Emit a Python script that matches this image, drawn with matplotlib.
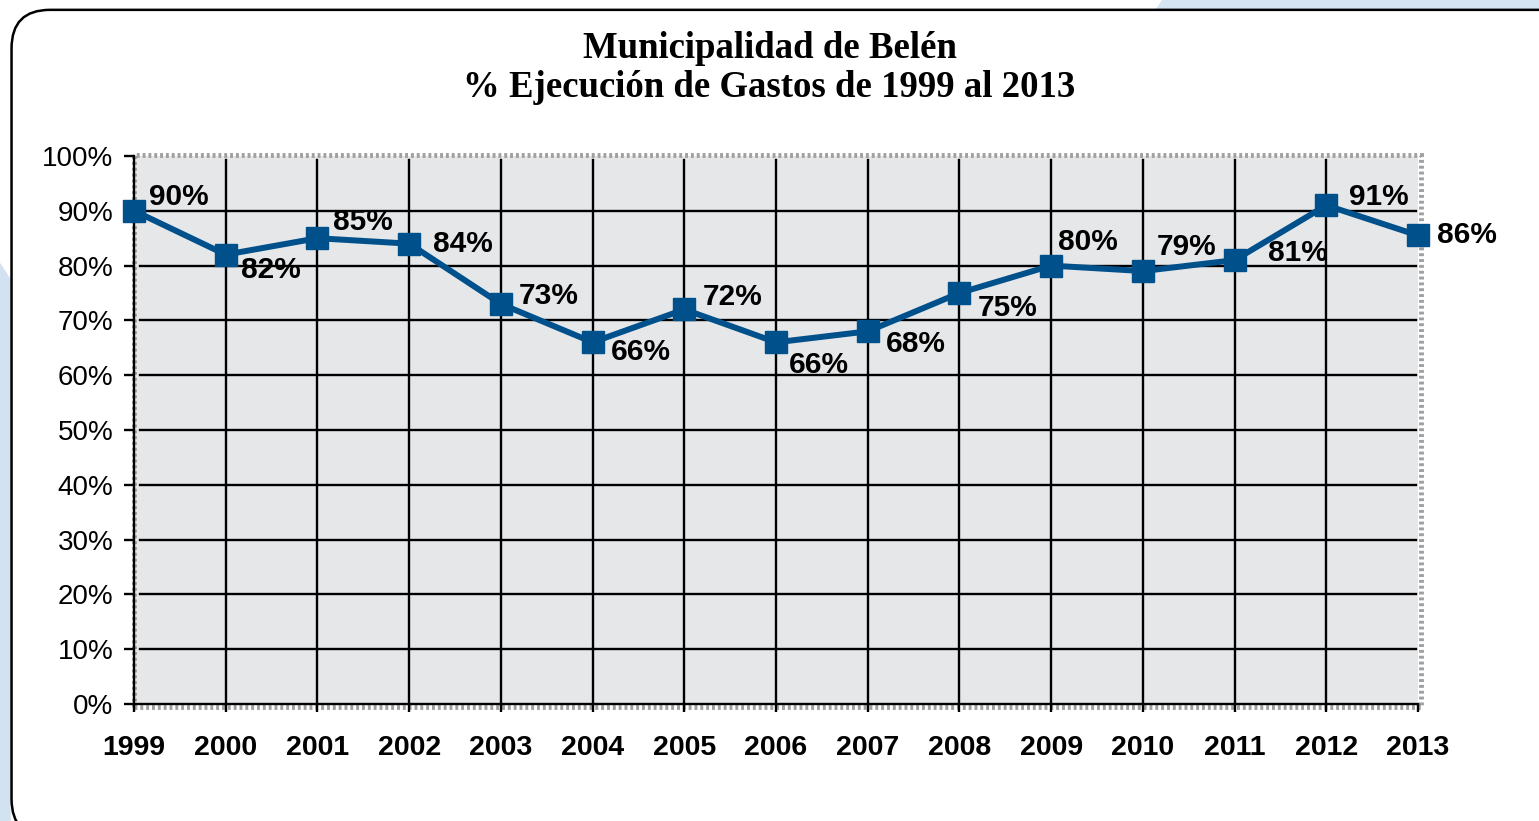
import numpy as np
import matplotlib.pyplot as plt
from matplotlib.patches import FancyBboxPatch, Rectangle, Polygon

# data
years = [1999, 2000, 2001, 2002, 2003, 2004, 2005, 2006, 2007, 2008, 2009, 2010, 2011, 2012, 2013]
ejecucion = [0.90, 0.82, 0.85, 0.84, 0.73, 0.66, 0.72, 0.66, 0.68, 0.75, 0.80, 0.79, 0.81, 0.91, 0.855]
etiquetas = ["90%", "82%", "85%", "84%", "73%", "66%", "72%", "66%", "68%", "75%", "80%", "79%", "81%", "91%", "86%"]
yticks = [0, 0.1, 0.2, 0.3, 0.4, 0.5, 0.6, 0.7, 0.8, 0.9, 1.0]
ytick_labels = ["0%", "10%", "20%", "30%", "40%", "50%", "60%", "70%", "80%", "90%", "100%"]

# label offsets in points (x, y) relative to each marker
offs = [(11, 10), (11, -11), (11, 12), (17, 0), (13, 6), (13, -7), (13, 9), (9, -16),
        (13, -9), (13, -11), (5, 17), (10, 17), (24, 5), (16, 6), (14, 0)]

blue = '#00508c'

fig = plt.figure(figsize=(15.39, 8.21), dpi=100)
fig.patch.set_facecolor('white')

# background decoration outside the rounded frame
fig.patches.append(Polygon([[0.0, 0.0], [0.007, 0.0], [0.007, 0.66], [0.0, 0.68]], closed=True,
                           transform=fig.transFigure, facecolor='#d3e2f0', edgecolor='none', zorder=-2))
fig.patches.append(Polygon([[0.755, 1.0], [1.0, 1.0], [1.0, 0.985], [0.75, 0.985]], closed=True,
                           transform=fig.transFigure, facecolor='#d6e5f2', edgecolor='none', zorder=-2))
frame = FancyBboxPatch((0.0075, -0.02), 1.05, 1.008, boxstyle="round,pad=0,rounding_size=0.025",
                       transform=fig.transFigure, facecolor='white', edgecolor='black',
                       linewidth=1.8, mutation_aspect=1539 / 821, zorder=-1)
fig.patches.append(frame)

ax = fig.add_axes([0.0871, 0.1425, 0.8343, 0.6675])
ax.set_zorder(2)
ax.set_facecolor('#e6e7e9')
ax.set_xlim(1999, 2013)
ax.set_ylim(0, 1.0)

# grid
for v in yticks[1:-1]:
    ax.plot([1999.07, 2012.98], [v, v], color='black', lw=1.7, zorder=2)
for yr in years[1:-1]:
    ax.plot([yr, yr], [0, 0.992], color='black', lw=1.7, zorder=2)

# dotted plot-area border
ax.add_patch(Rectangle((1999.0, -0.005), 14.03, 1.006, transform=ax.transData, fill=False,
                       edgecolor='#a0a0a0', lw=3.5, linestyle=(0, (0.6, 0.6)), clip_on=False, zorder=1.5))

ax.plot(years, ejecucion, color=blue, lw=4.3, marker='s', markersize=16.5,
        markerfacecolor=blue, markeredgecolor=blue, clip_on=False, zorder=4)

for x, y, t, (dx, dy) in zip(years, ejecucion, etiquetas, offs):
    ax.annotate(t, (x, y), xytext=(dx, dy), textcoords='offset points', ha='left', va='center',
                fontsize=21.5, fontweight='bold', family='Liberation Sans', zorder=5,
                annotation_clip=False)

for s in ['top', 'right']:
    ax.spines[s].set_visible(False)
for s in ['left', 'bottom']:
    ax.spines[s].set_linewidth(1.7)
    ax.spines[s].set_zorder(3)

ax.set_yticks(yticks)
ax.set_yticklabels(ytick_labels, fontsize=20, family='Liberation Sans')
ax.set_xticks(years)
ax.set_xticklabels([str(y) for y in years], fontsize=20.5, fontweight='bold', family='Liberation Sans')
ax.tick_params(axis='y', direction='out', length=7, width=1.7, pad=8)
ax.tick_params(axis='x', direction='out', length=6, width=1.7, pad=16)

fig.text(0.5, 0.941, "Municipalidad de Belén", ha='center', va='center', fontsize=26.5,
         fontweight='bold', family='Liberation Serif')
fig.text(0.5, 0.894, "% Ejecución de Gastos de 1999 al 2013", ha='center', va='center', fontsize=26.5,
         fontweight='bold', family='Liberation Serif')

fig.savefig('out.png', dpi=100)
